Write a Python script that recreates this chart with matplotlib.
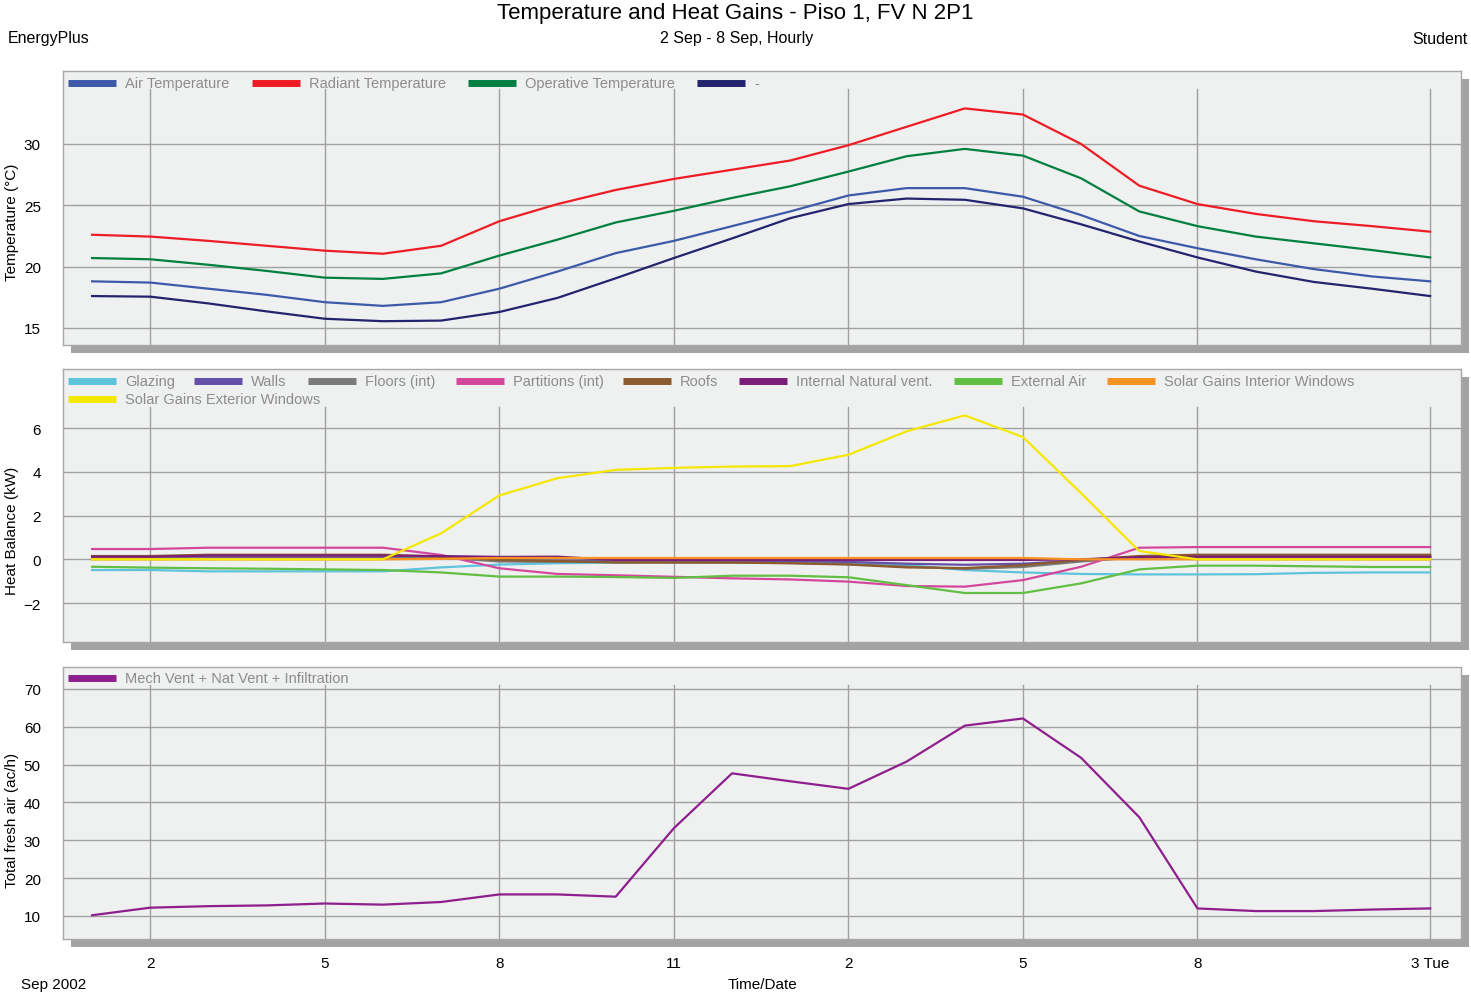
import matplotlib
matplotlib.use("Agg")
import matplotlib.pyplot as plt

plt.rcParams['font.family'] = ['Liberation Sans', 'DejaVu Sans']

hours = list(range(1, 25))
tick_hours = [2, 5, 8, 11, 14, 17, 20, 24]
tick_labels = ['2', '5', '8', '11', '2', '5', '8', '3 Tue']

# temperatures (C)
air_temp = [18.8, 18.7, 18.2, 17.7, 17.1, 16.8, 17.1, 18.2, 19.6, 21.1, 22.1, 23.3,
            24.5, 25.8, 26.4, 26.4, 25.7, 24.2, 22.5, 21.5, 20.6, 19.8, 19.2, 18.8]
radiant_temp = [22.6, 22.45, 22.1, 21.7, 21.3, 21.05, 21.7, 23.7, 25.1, 26.25, 27.15, 27.9,
                28.65, 29.9, 31.4, 32.9, 32.4, 30.0, 26.6, 25.1, 24.3, 23.7, 23.3, 22.85]
operative_temp = [20.7, 20.6, 20.15, 19.65, 19.1, 19.0, 19.45, 20.9, 22.2, 23.6, 24.55, 25.6,
                  26.55, 27.75, 29.0, 29.6, 29.05, 27.2, 24.5, 23.3, 22.45, 21.9, 21.35, 20.75]
dash_temp = [17.6, 17.55, 17.0, 16.35, 15.75, 15.55, 15.6, 16.3, 17.45, 19.05, 20.7, 22.3,
             23.95, 25.1, 25.55, 25.45, 24.75, 23.45, 22.05, 20.75, 19.6, 18.75, 18.2, 17.6]

# heat balance (kW)
glazing = [-0.49, -0.49, -0.55, -0.55, -0.55, -0.55, -0.37, -0.24, -0.18, -0.15, -0.1, -0.1,
           -0.14, -0.18, -0.26, -0.49, -0.6, -0.67, -0.69, -0.69, -0.68, -0.62, -0.6, -0.6]
walls = [0.08, 0.08, 0.1, 0.1, 0.1, 0.1, 0.05, -0.05, -0.06, -0.06, -0.07, -0.08,
         -0.09, -0.12, -0.2, -0.25, -0.2, -0.05, 0.08, 0.1, 0.1, 0.1, 0.1, 0.1]
floors = [0.1, 0.1, 0.14, 0.14, 0.14, 0.14, 0.08, -0.1, -0.12, -0.12, -0.14, -0.15,
          -0.17, -0.22, -0.33, -0.44, -0.35, -0.1, 0.1, 0.15, 0.15, 0.15, 0.15, 0.15]
partitions = [0.47, 0.47, 0.53, 0.53, 0.53, 0.53, 0.2, -0.41, -0.67, -0.73, -0.8, -0.87,
              -0.92, -1.02, -1.22, -1.25, -0.95, -0.34, 0.53, 0.56, 0.56, 0.56, 0.56, 0.56]
roofs = [0.15, 0.15, 0.21, 0.21, 0.21, 0.21, 0.12, -0.03, -0.08, -0.15, -0.15, -0.15,
         -0.18, -0.24, -0.37, -0.4, -0.27, -0.03, 0.15, 0.21, 0.21, 0.21, 0.21, 0.21]
int_nat_vent = [0.12, 0.12, 0.17, 0.17, 0.17, 0.17, 0.15, 0.11, 0.12, -0.03, -0.03, -0.03,
                -0.03, -0.03, -0.03, -0.03, -0.03, 0.0, 0.1, 0.12, 0.12, 0.12, 0.12, 0.12]
external_air = [-0.34, -0.38, -0.41, -0.43, -0.46, -0.49, -0.6, -0.79, -0.79, -0.81, -0.85, -0.75,
                -0.75, -0.82, -1.18, -1.54, -1.54, -1.1, -0.46, -0.29, -0.29, -0.32, -0.35, -0.35]
solar_int = [0, 0, 0, 0, 0, 0, 0.02, 0.06, 0.06, 0.06, 0.06, 0.06,
             0.06, 0.06, 0.06, 0.06, 0.06, 0.0, 0.0, 0, 0, 0, 0, 0]
solar_ext = [0, 0, 0, 0, 0, 0, 1.19, 2.92, 3.71, 4.09, 4.18, 4.24,
             4.26, 4.78, 5.85, 6.58, 5.59, 3.02, 0.38, 0, 0, 0, 0, 0]

# fresh air (ac/h)
fresh_air = [10.2, 12.2, 12.6, 12.8, 13.3, 13.0, 13.7, 15.7, 15.7, 15.1, 33.2, 47.7,
             45.6, 43.6, 50.8, 60.3, 62.2, 51.8, 36.1, 12.0, 11.3, 11.3, 11.7, 12.0]

temp_series = [('Air Temperature', air_temp, '#3c5aa8'),
               ('Radiant Temperature', radiant_temp, '#ee1c24'),
               ('Operative Temperature', operative_temp, '#008040'),
               ('-', dash_temp, '#23236e')]
heat_series = [('Glazing', glazing, '#5ec4dc'),
               ('Walls', walls, '#6450a8'),
               ('Floors (int)', floors, '#7a7a7a'),
               ('Partitions (int)', partitions, '#d4489c'),
               ('Roofs', roofs, '#8c5a2c'),
               ('Internal Natural vent.', int_nat_vent, '#7a1e7a'),
               ('External Air', external_air, '#62bf44'),
               ('Solar Gains Interior Windows', solar_int, '#f7931e'),
               ('Solar Gains Exterior Windows', solar_ext, '#f5e800')]
air_series = [('Mech Vent + Nat Vent + Infiltration', fresh_air, '#8e1f8e')]

W, H = 1471, 1003
fig = plt.figure(figsize=(W / 100, H / 100), dpi=100)
fig.patch.set_facecolor('white')


def px_box(left, top, right, bottom):
    return [left / W, 1 - bottom / H, (right - left) / W, (bottom - top) / H]


def make_panel(top, bottom, ylim, yticks, grid_top):
    left, right = 63, 1461
    # drop shadow
    sh = fig.add_axes(px_box(left + 8, top + 8, right + 8, bottom + 8), zorder=0)
    sh.set_facecolor('#a3a3a3')
    sh.set_xticks([])
    sh.set_yticks([])
    for s in sh.spines.values():
        s.set_visible(False)
    ax = fig.add_axes(px_box(left, top, right, bottom), zorder=1)
    ax.set_facecolor('#eff0f0')
    for s in ax.spines.values():
        s.set_color('#a8a8a8')
        s.set_linewidth(1.0)
    ax.set_xlim(0.5, 24.53)
    ax.set_ylim(*ylim)
    ax.set_yticks(yticks)
    ax.yaxis.grid(True, color='#a0a0a0', linewidth=1.0)
    ax.set_axisbelow(True)
    frac = (bottom - grid_top) / (bottom - top)
    for h in tick_hours:
        ax.axvline(h, ymin=0, ymax=frac, color='#a0a0a0', linewidth=1.0, zorder=0.5)
    ax.tick_params(axis='y', length=0, pad=16, labelsize=11)
    ax.tick_params(axis='x', length=0)
    ax.set_xticks([])
    return ax


def legend_row(ax, series, xs, y_px, top, bottom):
    yf = 1 - (y_px - top) / (bottom - top)
    for (label, _, color), x in zip(series, xs):
        x0 = (x - 63) / 1398
        x1 = (x + 48 - 63) / 1398
        ax.plot([x0, x1], [yf, yf], transform=ax.transAxes, color=color, lw=5,
                solid_capstyle='butt', clip_on=False)
        ax.text((x + 57 - 63) / 1398, yf, label, transform=ax.transAxes,
                color='#8c8c8c', fontsize=10.5, va='center', ha='left')


# panel 1: temperatures
ax1 = make_panel(72, 346, (13.61, 35.95), [15, 20, 25, 30], 90)
for label, vals, color in temp_series:
    ax1.plot(hours, vals, color=color, lw=1.6)
legend_row(ax1, temp_series, [68, 252, 468, 697], 84, 72, 346)
ax1.set_ylabel('Temperature (°C)', fontsize=11)
ax1.yaxis.set_label_coords(-0.0315, 0.45)

# panel 2: heat balance
ax2 = make_panel(370, 643, (-3.78, 8.70), [-2, 0, 2, 4, 6], 408)
for label, vals, color in heat_series:
    ax2.plot(hours, vals, color=color, lw=1.6)
legend_row(ax2, heat_series[:8], [68, 194, 308, 456, 623, 739, 954, 1107], 382, 370, 643)
legend_row(ax2, heat_series[8:], [68], 400, 370, 643)
ax2.set_ylabel('Heat Balance (kW)', fontsize=11)
ax2.yaxis.set_label_coords(-0.0315, 0.41)

# panel 3: fresh air
ax3 = make_panel(668, 940, (3.92, 75.8), [10, 20, 30, 40, 50, 60, 70], 686)
for label, vals, color in air_series:
    ax3.plot(hours, vals, color=color, lw=1.6)
legend_row(ax3, air_series, [68], 679, 668, 940)
ax3.set_ylabel('Total fresh air (ac/h)', fontsize=11)
ax3.yaxis.set_label_coords(-0.0315, 0.44)
ax3.set_xticks(tick_hours)
ax3.set_xticklabels(tick_labels)
ax3.tick_params(axis='x', length=0, pad=12, labelsize=11)

# header and footer texts
fig.text(0.5, 1 - 14 / H, 'Temperature and Heat Gains - Piso 1, FV N 2P1',
         ha='center', va='center', fontsize=16)
fig.text(737 / W, 1 - 39 / H, '2 Sep - 8 Sep, Hourly', ha='center', va='center', fontsize=11.5)
fig.text(8 / W, 1 - 39 / H, 'EnergyPlus', ha='left', va='center', fontsize=11.5)
fig.text(1468 / W, 1 - 39 / H, 'Student', ha='right', va='center', fontsize=11.5)
fig.text(21 / W, 1 - 985 / H, 'Sep 2002', ha='left', va='center', fontsize=11)
fig.text(762 / W, 1 - 985 / H, 'Time/Date', ha='center', va='center', fontsize=11)

fig.savefig('out.png', dpi=100)
